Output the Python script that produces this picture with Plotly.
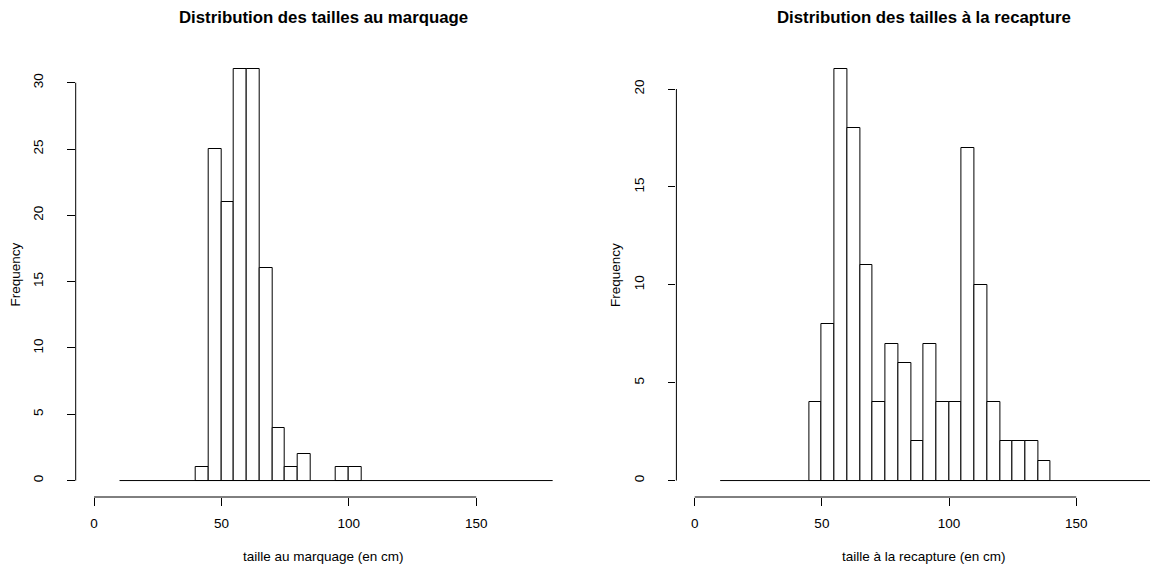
import plotly.graph_objects as go

# Histogram bins shared by both panels (5 cm wide, 10 to 180 cm)
breaks = list(range(10, 185, 5))

# Counts per bin: size at tagging
counts_marquage = [0, 0, 0, 0, 0, 0,
                   1, 25, 21, 31, 31, 16, 4, 1, 2, 0, 0, 1, 1,
                   0, 0, 0, 0, 0, 0, 0, 0, 0, 0, 0, 0, 0, 0, 0]

# Counts per bin: size at recapture
counts_recapture = [0, 0, 0, 0, 0, 0, 0,
                    4, 8, 21, 18, 11, 4, 7, 6, 2, 7, 4, 4, 17, 10, 4, 2, 2, 2, 1,
                    0, 0, 0, 0, 0, 0, 0, 0]

titles = ["Distribution des tailles au marquage",
          "Distribution des tailles à la recapture"]
xlabels = ["taille au marquage (en cm)", "taille à la recapture (en cm)"]
ylabel = "Frequency"
xticks = [0, 50, 100, 150]
yticks_left = [0, 5, 10, 15, 20, 25, 30]
yticks_right = [0, 5, 10, 15, 20]

W, H = 1150, 574
FONT = "Liberation Sans, Arial, sans-serif"
AXIS_SIZE = 13.5
TITLE_SIZE = 16.8


def px_x(p):
    return p / W


def px_y(p):
    return (H - p) / H


# plot regions in pixels
left_dom = [px_x(75.7), px_x(571.0)]
right_dom = [px_x(676.4), 1.0]
y_dom = [px_y(497.0), px_y(53.0)]

fig = go.Figure()

centers = [b + 2.5 for b in breaks[:-1]]


def add_hist(counts, xa, ya):
    xs = [c for c, n in zip(centers, counts) if n > 0]
    ys = [n for n in counts if n > 0]
    fig.add_trace(go.Bar(
        x=xs, y=ys, width=5, xaxis=xa, yaxis=ya,
        marker=dict(color="white", line=dict(color="black", width=1)),
        showlegend=False, hoverinfo="x+y"))
    # empty bins collapse onto the zero line
    fig.add_trace(go.Scatter(
        x=[breaks[0], breaks[-1]], y=[0, 0], mode="lines", xaxis=xa, yaxis=ya,
        line=dict(color="black", width=1), showlegend=False, hoverinfo="skip"))


add_hist(counts_marquage, "x", "y")
add_hist(counts_recapture, "x2", "y2")

common_x = dict(showgrid=False, zeroline=False, showline=False,
                ticks="outside", ticklen=7.5, tickwidth=1, tickcolor="black",
                tickvals=xticks, ticktext=[str(v) for v in xticks],
                tickfont=dict(family=FONT, size=AXIS_SIZE, color="black"),
                ticklabelstandoff=6, fixedrange=True)
common_y = dict(showgrid=False, zeroline=False, showline=False,
                ticks="outside", ticklen=7.5, tickwidth=1, tickcolor="black",
                tickangle=-90,
                tickfont=dict(family=FONT, size=AXIS_SIZE, color="black"),
                ticklabelstandoff=19, domain=y_dom, fixedrange=True)

max_l = max(counts_marquage)
max_r = max(counts_recapture)

fig.update_layout(
    width=W, height=H, autosize=False,
    margin=dict(l=0, r=0, t=0, b=0),
    paper_bgcolor="white", plot_bgcolor="white",
    bargap=0,
    xaxis=dict(common_x, domain=left_dom, range=[-7.2, 187.2], anchor="y"),
    yaxis=dict(common_y, range=[-0.04 * max_l, max_l * 1.04],
               tickvals=yticks_left, ticktext=[str(v) for v in yticks_left],
               anchor="x"),
    xaxis2=dict(common_x, domain=right_dom, range=[-7.2, 179.0], anchor="y2"),
    yaxis2=dict(common_y, range=[-0.04 * max_r, max_r * 1.04],
                tickvals=yticks_right, ticktext=[str(v) for v in yticks_right],
                anchor="x2"),
)

# R-style axis lines spanning first to last tick only
shapes = []
for xr, yr, ymax in [("x", "y", yticks_left[-1]), ("x2", "y2", yticks_right[-1])]:
    shapes.append(dict(type="line", xref=xr, yref=yr + " domain",
                       x0=xticks[0], x1=xticks[-1], y0=0, y1=0,
                       line=dict(color="black", width=1)))
    shapes.append(dict(type="line", xref=xr + " domain", yref=yr,
                       x0=0, x1=0, y0=0, y1=ymax,
                       line=dict(color="black", width=1)))
fig.update_layout(shapes=shapes)

annotations = []
for i, dom in enumerate([left_dom, right_dom]):
    cx = (dom[0] + (px_x(1171.0) if i == 1 else dom[1])) / 2
    annotations.append(dict(text="<b>%s</b>" % titles[i], xref="paper", yref="paper",
                            x=cx, y=px_y(18), xanchor="center", yanchor="middle",
                            showarrow=False,
                            font=dict(family=FONT, size=TITLE_SIZE, color="black")))
    annotations.append(dict(text=xlabels[i], xref="paper", yref="paper",
                            x=cx, y=px_y(556), xanchor="center", yanchor="middle",
                            showarrow=False,
                            font=dict(family=FONT, size=AXIS_SIZE, color="black")))
    ylab_x = 15.5 if i == 0 else 616
    annotations.append(dict(text=ylabel, xref="paper", yref="paper",
                            x=px_x(ylab_x), y=px_y(275), xanchor="center",
                            yanchor="middle", textangle=-90, showarrow=False,
                            font=dict(family=FONT, size=AXIS_SIZE, color="black")))
fig.update_layout(annotations=annotations)

fig.write_html("out.html")
